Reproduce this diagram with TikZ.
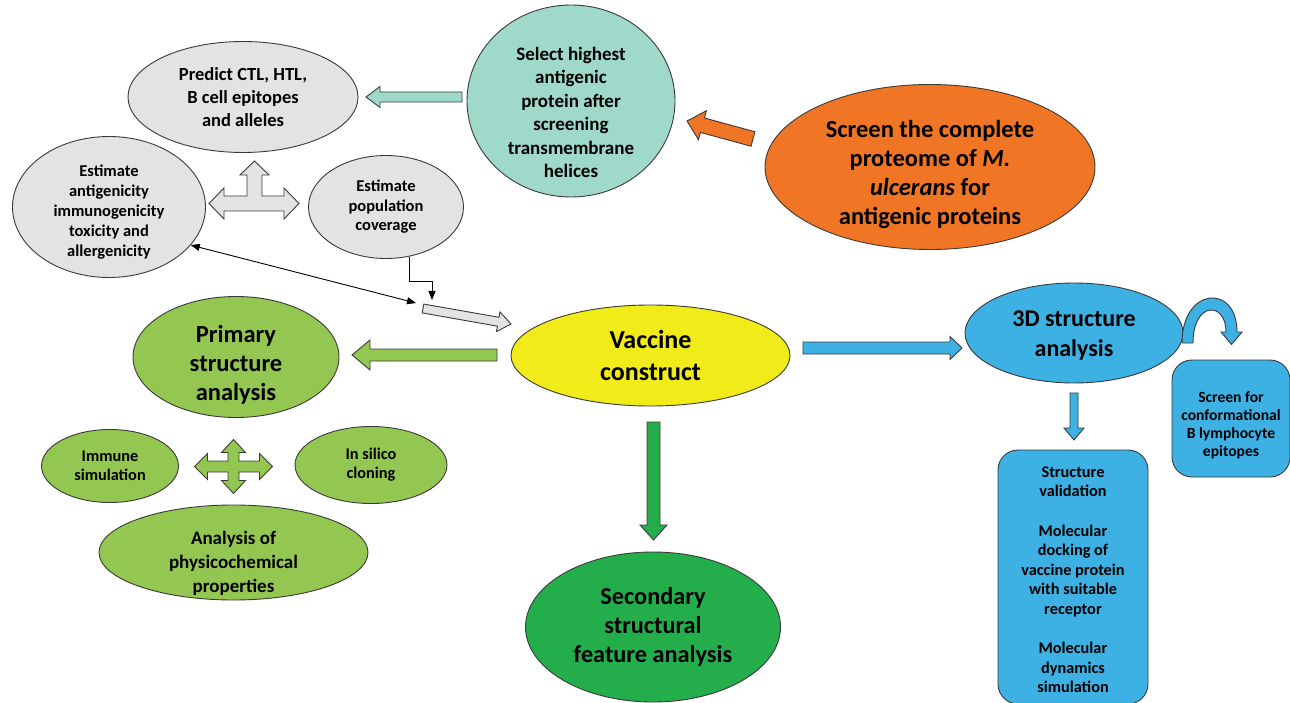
\documentclass[tikz,border=0pt]{standalone}
\usepackage{fontspec}
\setmainfont{Carlito}
\usetikzlibrary{shapes.geometric,calc,arrows.meta}
\definecolor{edge}{HTML}{3A3A3A}
\definecolor{grayf}{HTML}{E3E3E3}
\definecolor{tealf}{HTML}{9FD9C9}
\definecolor{orangef}{HTML}{F07524}
\definecolor{yellowf}{HTML}{F2EB1A}
\definecolor{lgreenf}{HTML}{93C751}
\definecolor{dgreenf}{HTML}{23AE4B}
\definecolor{bluef}{HTML}{3DB1E3}
\newcommand\fs[2]{\fontsize{#1}{#2}\selectfont\bfseries}
\newcommand\dn[1]{\rule{0pt}{#1}}
\newcommand\blkarrow[6]{% #1 style, #2 from, #3 to, #4 half shaft, #5 half head, #6 head length
  \coordinate (bah) at ($(#3)!#6!(#2)$);
  \draw[#1] ($(#2)!#4!90:(#3)$) -- ($(bah)!#4!90:(#3)$) -- ($(bah)!#5!90:(#3)$) -- (#3)
    -- ($(bah)!#5!270:(#3)$) -- ($(bah)!#4!270:(#3)$) -- ($(#2)!#4!270:(#3)$) -- cycle;
}
\begin{document}
\begin{tikzpicture}[x=1pt,y=-1pt,
  ell/.style={ellipse, draw=edge, line width=0.9pt, inner sep=-20pt, align=center, text=black},
  rbox/.style={rectangle, rounded corners=20pt, draw=edge, line width=0.9pt, align=center, fill=bluef, inner sep=0pt},
  blk/.style={draw=edge, line width=0.9pt, line join=miter},
  thinarr/.style={draw=black, line width=0.9pt}
]
\fill[white] (0,0) rectangle (1290,703);
\useasboundingbox (0,0) rectangle (1290,703);

% ---------- ellipses ----------
\node[ell, fill=grayf, minimum width=230pt, minimum height=111pt, font=\fs{18.5}{23}] (predict) at (243,97)
  {Predict CTL, HTL,\\B cell epitopes\\and alleles};
\node[ell, fill=grayf, minimum width=193pt, minimum height=141pt, font=\fs{16.5}{20}] (anti) at (109,207)
  {\dn{22.6pt}Estimate\\antigenicity\\immunogenicity\\toxicity and\\allergenicity};
\node[ell, fill=grayf, minimum width=155pt, minimum height=103pt, font=\fs{16.5}{19.5}] (pop) at (386,207)
  {Estimate\\population\\coverage};
\node[ell, fill=tealf, minimum width=208pt, minimum height=192pt, font=\fs{19}{23.5}] (select) at (571,101)
  {\dn{36pt}Select highest\\antigenic\\protein after\\screening\\transmembrane\\helices};
\node[ell, fill=orangef, minimum width=330pt, minimum height=165pt, font=\fs{24.5}{29}] (screen) at (930,167)
  {\dn{32pt}Screen the complete\\proteome of \textit{M.}\\\textit{ulcerans} for\\antigenic proteins};
\node[ell, fill=yellowf, minimum width=279pt, minimum height=101pt, font=\fs{26}{32}] (vacc) at (650.5,355.5)
  {Vaccine\\construct};
\node[ell, fill=lgreenf, minimum width=206pt, minimum height=121pt, font=\fs{24.5}{29}] (primary) at (236,357)
  {\dn{33.8pt}Primary\\structure\\analysis};
\node[ell, fill=lgreenf, minimum width=137pt, minimum height=73pt, font=\fs{16.3}{19}] (immune) at (110,466)
  {Immune\\simulation};
\node[ell, fill=lgreenf, minimum width=152pt, minimum height=77pt, font=\fs{16.3}{19}] (silico) at (371,465)
  {In silico\\cloning};
\node[ell, fill=lgreenf, minimum width=269pt, minimum height=95pt, font=\fs{19}{24}] (physico) at (233.5,552.5)
  {\dn{34.3pt}Analysis of\\physicochemical\\properties};
\node[ell, fill=dgreenf, minimum width=255pt, minimum height=150pt, font=\fs{24.3}{29}] (second) at (653,627)
  {Secondary\\structural\\feature analysis};
\node[ell, fill=bluef, minimum width=218pt, minimum height=100pt, font=\fs{24}{30}] (threed) at (1074,333)
  {\dn{21.5pt}3D structure\\analysis};

% ---------- boxes ----------
\node[rbox, minimum width=150pt, minimum height=254pt, font=\fs{16.3}{19.6}] (valid) at (1073,577)
  {\dn{16.5pt}Structure\\validation\\[19.6pt]Molecular\\docking of\\vaccine protein\\with suitable\\receptor\\[19.6pt]Molecular\\dynamics\\simulation};
\node[rbox, minimum width=118pt, minimum height=117pt, font=\fs{15.6}{18}] (conf) at (1231,418.5)
  {\dn{23.7pt}Screen for\\conformational\\B lymphocyte\\epitopes};

% ---------- block arrows ----------
\coordinate (tA) at (462,97);     \coordinate (tB) at (366,97);
\coordinate (oA) at (753,139);    \coordinate (oB) at (687,121);
\coordinate (gA) at (423,308.5);  \coordinate (gB) at (511,324);
\coordinate (lA) at (497,355);    \coordinate (lB) at (352,355);
\coordinate (dA) at (653.5,422);  \coordinate (dB) at (653.5,540);
\coordinate (bA) at (803,348);    \coordinate (bB) at (962,348);
\coordinate (sA) at (1074,393);   \coordinate (sB) at (1074,440);
\blkarrow{blk,fill=tealf}{tA}{tB}{5pt}{10.5pt}{14pt}
\blkarrow{blk,fill=orangef}{oA}{oB}{7.5pt}{15pt}{16pt}
\blkarrow{blk,fill=grayf}{gA}{gB}{4.5pt}{10pt}{13pt}
\blkarrow{blk,fill=lgreenf}{lA}{lB}{6pt}{15pt}{18pt}
\blkarrow{blk,fill=dgreenf}{dA}{dB}{6.5pt}{13.5pt}{15pt}
\blkarrow{blk,fill=bluef}{bA}{bB}{6pt}{11.5pt}{12pt}
\blkarrow{blk,fill=bluef}{sA}{sB}{4pt}{10pt}{12pt}

% three-way gray arrow
\draw[blk, fill=grayf] (209,203.5) -- (224,188) -- (224,196) -- (247,196) -- (247,175) -- (240,175)
  -- (254.5,161) -- (269,175) -- (262,175) -- (262,196) -- (284,196) -- (284,188) -- (299,203.5)
  -- (284,219) -- (284,211) -- (224,211) -- (224,219) -- cycle;

% four-way green arrow
\begin{scope}[shift={(233.5,466.5)}]
\draw[blk, fill=lgreenf] (39,0) -- (26,-13) -- (26,-5.5) -- (5.5,-5.5) -- (5.5,-14) -- (12,-14)
  -- (0,-27) -- (-12,-14) -- (-5.5,-14) -- (-5.5,-5.5) -- (-26,-5.5) -- (-26,-13) -- (-39,0)
  -- (-26,13) -- (-26,5.5) -- (-5.5,5.5) -- (-5.5,14) -- (-12,14) -- (0,27) -- (12,14)
  -- (5.5,14) -- (5.5,5.5) -- (26,5.5) -- (26,13) -- cycle;
\end{scope}

% curved arrow from 3D structure to conformational screen
\coordinate (cB) at (1231.5,344.5);
\draw[blk, fill=bluef] (1182,343) .. controls (1182,287) and (1237,283) .. (1237,332) -- (1242,332)
  -- (cB) -- (1221,332) -- (1226,332) .. controls (1226,301) and (1193,301) .. (1193,343) -- cycle;

% ---------- thin connectors ----------
\coordinate (dbl) at (416,303);
\draw[thinarr, {Triangle[length=9pt,width=7pt]}-{Triangle[length=9pt,width=7pt]}] (anti.-25) -- (dbl);
\coordinate (elb) at (432,300);
\draw[thinarr, -{Triangle[length=9pt,width=7pt]}] (pop.-65) -- ++(0,25) -| (elb);
\end{tikzpicture}
\end{document}
